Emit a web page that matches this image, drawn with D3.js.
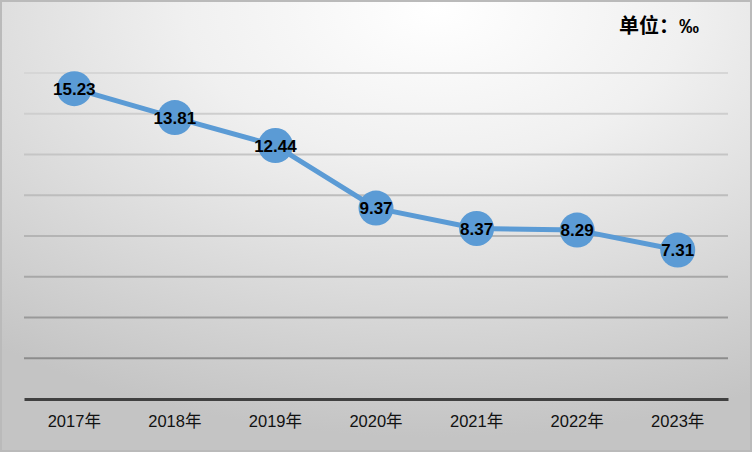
<!DOCTYPE html>
<html>
<head>
<meta charset="utf-8">
<script src="https://cdn.jsdelivr.net/npm/d3@7"></script>
<style>
  html, body { margin: 0; padding: 0; background: #fff; }
  svg { display: block; }
</style>
</head>
<body>
<svg id="chart" width="752" height="452"></svg>
<script>
// values
const years = ["2017年", "2018年", "2019年", "2020年", "2021年", "2022年", "2023年"];
const rates = [15.23, 13.81, 12.44, 9.37, 8.37, 8.29, 7.31];
const yTicks = [2, 4, 6, 8, 10, 12, 14, 16];
const unitLabel = "单位：‰";

function drawChart() {
  const svg = d3.select("#chart");
  const width = +svg.attr("width");
  const height = +svg.attr("height");

  const data = years.map((y, i) => ({ year: y, value: rates[i] }));

  // background gradient, light at top centre, grey towards the edges
  const defs = svg.append("defs");
  const bg = defs
    .append("radialGradient")
    .attr("id", "bg")
    .attr("cx", 0.58)
    .attr("cy", 0.02)
    .attr("r", 0.95)
    .attr("fx", 0.58)
    .attr("fy", 0.02);
  bg.append("stop").attr("offset", "0%").attr("stop-color", "#ffffff");
  bg.append("stop").attr("offset", "35%").attr("stop-color", "#f0f0f0");
  bg.append("stop").attr("offset", "100%").attr("stop-color", "#c4c4c4");

  svg
    .append("rect")
    .attr("x", 1)
    .attr("y", 1)
    .attr("width", width - 2)
    .attr("height", height - 2)
    .attr("fill", "url(#bg)")
    .attr("stroke", "#bababa")
    .attr("stroke-width", 2);

  // scales
  const x = d3.scaleBand().domain(years).range([24, 728]).padding(0);
  const y = d3.scaleLinear().domain([0, 16]).range([399, 73]);
  const cx = (d) => x(d.year) + x.bandwidth() / 2;

  // gridlines get darker towards the bottom, like the original
  const gridColor = d3.scaleLinear().domain([16, 8, 2]).range(["#d6d6d6", "#b4b4b4", "#8c8c8c"]);
  svg
    .append("g")
    .selectAll("line")
    .data(yTicks)
    .join("line")
    .attr("x1", 24)
    .attr("x2", 728)
    .attr("y1", (d) => y(d))
    .attr("y2", (d) => y(d))
    .attr("stroke", (d) => gridColor(d))
    .attr("stroke-width", 2);

  // bottom axis
  const xAxis = svg
    .append("g")
    .attr("transform", "translate(0," + y(0) + ")")
    .call(d3.axisBottom(x).tickSize(0).tickPadding(16));
  xAxis.select(".domain").attr("stroke", "#404040").attr("stroke-width", 3);
  xAxis
    .selectAll("text")
    .attr("fill", "#111")
    .style("font-family", "'Liberation Sans', 'Noto Sans CJK SC', sans-serif")
    .style("font-size", "16.5px");

  // the line
  svg
    .append("path")
    .datum(data)
    .attr("fill", "none")
    .attr("stroke", "#5b9bd5")
    .attr("stroke-width", 5)
    .attr("stroke-linejoin", "round")
    .attr(
      "d",
      d3
        .line()
        .x((d) => cx(d))
        .y((d) => y(d.value))
    );

  // markers
  svg
    .append("g")
    .selectAll("circle")
    .data(data)
    .join("circle")
    .attr("cx", (d) => cx(d))
    .attr("cy", (d) => y(d.value))
    .attr("r", 17.5)
    .attr("fill", "#5b9bd5");

  // value labels
  svg
    .append("g")
    .selectAll("text")
    .data(data)
    .join("text")
    .attr("x", (d) => cx(d))
    .attr("y", (d) => y(d.value))
    .attr("dy", "0.36em")
    .attr("text-anchor", "middle")
    .attr("fill", "#000")
    .style("font-family", "'Liberation Sans', Arial, sans-serif")
    .style("font-weight", "bold")
    .style("font-size", "17px")
    .text((d) => d.value.toFixed(2));

  // unit label, top right
  svg
    .append("text")
    .attr("x", 619)
    .attr("y", 33)
    .attr("fill", "#000")
    .style("font-family", "'Liberation Sans', 'Noto Sans CJK SC', sans-serif")
    .style("font-weight", "bold")
    .style("font-size", "20px")
    .text(unitLabel);
}

drawChart();
</script>
</body>
</html>
